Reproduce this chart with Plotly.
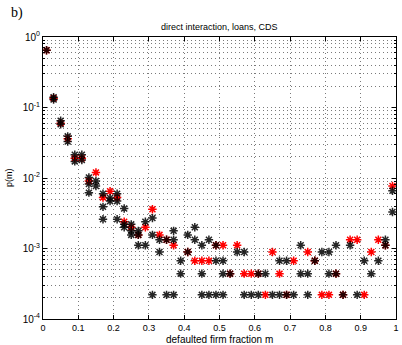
import plotly.graph_objects as go

# defaulted firm fraction m and measured p(m) per series
red_m = [0.01, 0.03, 0.05, 0.07, 0.09, 0.11, 0.13, 0.15, 0.17, 0.19, 0.21, 0.23,
         0.25, 0.27, 0.29, 0.31, 0.33, 0.35, 0.37, 0.41, 0.43, 0.45, 0.47, 0.49,
         0.51, 0.53, 0.55, 0.57, 0.59, 0.61, 0.63, 0.65, 0.67, 0.69, 0.71, 0.75,
         0.77, 0.79, 0.81, 0.83, 0.85, 0.87, 0.89, 0.91, 0.93, 0.95, 0.97, 0.99]
red_p = [0.65, 0.135, 0.060, 0.036, 0.019, 0.019, 0.0091, 0.012, 0.0053, 0.0065, 0.0053, 0.0024,
         0.0020, 0.00156, 0.0020, 0.0036, 0.00156, 0.00133, 0.00111, 0.00089, 0.00067, 0.00067, 0.00067, 0.00111,
         0.00111, 0.00044, 0.00111, 0.00044, 0.00044, 0.00044, 0.00022, 0.00089, 0.00044, 0.00022, 0.00067, 0.00089,
         0.00067, 0.00022, 0.00022, 0.00044, 0.00022, 0.00133, 0.00133, 0.00022, 0.00089, 0.00133, 0.00111, 0.0077]

black_m = [0.01, 0.03, 0.03, 0.05, 0.05, 0.07, 0.07, 0.09, 0.09, 0.11, 0.11,
           0.13, 0.13, 0.13, 0.15, 0.15, 0.17, 0.17, 0.17, 0.19, 0.19,
           0.21, 0.21, 0.21, 0.23, 0.23, 0.23, 0.25, 0.25, 0.25, 0.27, 0.27, 0.27,
           0.29, 0.29, 0.31, 0.31, 0.31, 0.33, 0.33, 0.35, 0.35, 0.37, 0.37, 0.37,
           0.39, 0.39, 0.41, 0.41, 0.43, 0.43, 0.45, 0.45, 0.45, 0.47, 0.47,
           0.49, 0.49, 0.49, 0.51, 0.51, 0.51, 0.53, 0.55, 0.57, 0.57, 0.59,
           0.61, 0.61, 0.63, 0.65, 0.67, 0.67, 0.69, 0.69, 0.71, 0.73, 0.73,
           0.75, 0.75, 0.77, 0.79, 0.81, 0.81, 0.83, 0.83, 0.85, 0.87, 0.89,
           0.91, 0.93, 0.95, 0.97, 0.97, 0.99, 0.99]
black_p = [0.65, 0.13, 0.14, 0.065, 0.058, 0.039, 0.033, 0.0214, 0.0172, 0.0214, 0.018,
           0.0102, 0.0082, 0.0062, 0.0091, 0.0077, 0.0060, 0.0039, 0.0026, 0.0052, 0.0047,
           0.0060, 0.0047, 0.0026, 0.0037, 0.0022, 0.0020, 0.0022, 0.00178, 0.00156, 0.00178, 0.00156, 0.00111,
           0.0024, 0.00111, 0.0027, 0.00156, 0.00022, 0.00133, 0.00089, 0.00133, 0.00022, 0.00178, 0.00133, 0.00022,
           0.00067, 0.00044, 0.00156, 0.00089, 0.0020, 0.00133, 0.00111, 0.00044, 0.00022, 0.00133, 0.00022,
           0.00111, 0.00067, 0.00022, 0.00067, 0.00044, 0.00022, 0.00044, 0.00089, 0.00089, 0.00022, 0.00022,
           0.00044, 0.00022, 0.00044, 0.00022, 0.00067, 0.00022, 0.00067, 0.00022, 0.00022, 0.00111, 0.00044,
           0.00044, 0.00022, 0.00067, 0.00089, 0.00089, 0.00044, 0.00111, 0.00044, 0.00022, 0.00111, 0.00022,
           0.00067, 0.00044, 0.00067, 0.00133, 0.00111, 0.0066, 0.0033]

x_ticks = [0, 0.1, 0.2, 0.3, 0.4, 0.5, 0.6, 0.7, 0.8, 0.9, 1]
x_tick_text = ["0", "0.1", "0.2", "0.3", "0.4", "0.5", "0.6", "0.7", "0.8", "0.9", "1"]
y_ticks = [1e-4, 1e-3, 1e-2, 1e-1, 1]
y_tick_text = ["10<sup>-4</sup>", "10<sup>-3</sup>", "10<sup>-2</sup>", "10<sup>-1</sup>", "10<sup>0</sup>"]

FONT = "Liberation Sans, Arial, sans-serif"
GRID = dict(showgrid=True, gridcolor="#7a7a7a", gridwidth=1, griddash="1px,3px")

def star(color, opacity=1.0):
    return dict(symbol="asterisk-open", size=7, color=color,
                line=dict(color=color, width=1.5), opacity=opacity)

fig = go.Figure()
fig.add_trace(go.Scatter(x=red_m, y=red_p, mode="markers", marker=star("#ff0000"),
                         showlegend=False, cliponaxis=False))
fig.add_trace(go.Scatter(x=black_m, y=black_p, mode="markers", marker=star("#000000", 0.85),
                         showlegend=False, cliponaxis=False))

fig.update_layout(
    width=402, height=345,
    margin=dict(l=43, r=3, t=37, b=26),
    paper_bgcolor="white", plot_bgcolor="white",
    font=dict(family=FONT, size=9, color="black"),
    xaxis=dict(range=[0, 1], tickmode="array", tickvals=x_ticks, ticktext=x_tick_text,
               ticks="inside", ticklen=4, tickcolor="black",
               showline=True, linecolor="black", linewidth=1, mirror="ticks",
               zeroline=False, tickfont=dict(size=9), **GRID),
    yaxis=dict(type="log", range=[-4, 0], tickmode="array", tickvals=y_ticks, ticktext=y_tick_text,
               ticks="inside", ticklen=4, tickcolor="black",
               showline=True, linecolor="black", linewidth=1, mirror="ticks",
               zeroline=False, tickfont=dict(size=10),
               minor=dict(dtick="D1", ticks="inside", ticklen=2, tickcolor="black",
                          showgrid=True, gridcolor="#7a7a7a", griddash="1px,3px", gridwidth=1),
               **GRID),
    annotations=[
        dict(text="direct interaction, loans, CDS", x=0.5, y=1, xref="paper", yref="paper",
             xanchor="center", yanchor="bottom", yshift=3, showarrow=False,
             font=dict(family=FONT, size=9)),
        dict(text="defaulted firm fraction m", x=0.5, y=0, xref="paper", yref="paper",
             xanchor="center", yanchor="top", yshift=-13, showarrow=False,
             font=dict(family=FONT, size=10)),
        dict(text="p(m)", x=0, y=0.5, xref="paper", yref="paper", textangle=-90,
             xanchor="right", yanchor="middle", xshift=-27, showarrow=False,
             font=dict(family=FONT, size=9)),
        dict(text="b)", x=0, y=1, xref="paper", yref="paper", xanchor="left", yanchor="top",
             xshift=-34, yshift=34, showarrow=False,
             font=dict(family="Liberation Serif, Times New Roman, serif", size=14)),
    ],
)

fig.write_html("out.html")
